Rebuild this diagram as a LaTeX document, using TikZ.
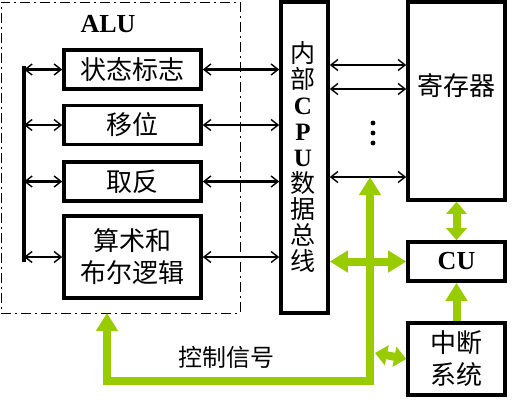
\documentclass[tikz,border=0pt]{standalone}
\usepackage{fontspec}
\setmainfont{Liberation Serif}
\newfontfamily\cjk{Noto Sans CJK SC}
\usetikzlibrary{arrows.meta}
\definecolor{ctrlgreen}{RGB}{153,204,0}

\begin{document}
\begin{tikzpicture}[
    x=0.5pt, y=-0.5pt,
    box/.style={draw, line width=1.8pt, inner sep=0pt, align=center, font=\cjk\fontsize{13}{16}\selectfont},
    alubox/.style={box, minimum width=68.5pt, minimum height=19.5pt},
    sidebox/.style={box, minimum width=48.5pt},
    frame/.style={draw, line width=0.5pt, dash pattern=on 5pt off 2pt on 1pt off 2pt, minimum width=119.5pt, minimum height=155.5pt, inner sep=0pt},
    wire/.style={line width=1.4pt},
    btip/.tip={Straight Barb[length=3.5pt, width=5.5pt, line width=0.7pt]},
    gtip/.tip={Triangle[length=9pt, width=10.5pt]},
    gshort/.tip={Triangle[length=6pt, width=10pt]},
    biwire/.style={wire, btip-btip},
    ctrl/.style={draw=ctrlgreen, line width=4pt},
    label_node/.style={font=\cjk\fontsize{12}{14}\selectfont}
]
    \useasboundingbox (0,0) rectangle (518,419);

    % ALU part
    \node[frame] (alu) at (120.5,157.5) {};
    \node[font=\fontsize{13}{15}\selectfont\bfseries] (alutxt) at (108,24) {ALU};
    \node[alubox] (flag) at (132.5,69.5) {状态标志};
    \node[alubox] (shift) at (132.5,125) {移位};
    \node[alubox] (neg) at (132.5,181.5) {取反};
    \node[alubox, minimum height=41pt] (arith) at (132.5,257) {算术和\\布尔逻辑};

    % internal bus
    \node[box, minimum width=23.5pt, minimum height=155.5pt] (bus) at (304.5,157.5) {};
    \node[font=\cjk\fontsize{12.5}{13}\selectfont, align=center] (bustxt) at (303,157)
        {内\\部\\{\normalfont\bfseries C}\\{\normalfont\bfseries P}\\{\normalfont\bfseries U}\\数\\据\\总\\线};

    % control side
    \node[sidebox, minimum height=99pt] (regs) at (456.5,101) {};
    \node[font=\cjk\fontsize{13}{16}\selectfont] (regtxt) at (456.5,86) {寄存器};
    \node[sidebox, minimum height=19.5pt, font=\fontsize{13}{15}\selectfont\bfseries] (cu) at (456.5,261.5) {CU};
    \node[sidebox, minimum height=36pt] (intr) at (456.5,359) {中断\\系统};

    % black connections
    \coordinate (lbtop) at (24,66);
    \coordinate (lbbot) at (24,262);
    \draw[wire, line width=1.6pt] (lbtop) -- (lbbot);
    \foreach \b in {flag,shift,neg,arith} {
        \draw[biwire] (lbtop |- \b.west) -- (\b.west);
        \draw[biwire] (\b.east) -- (bus.west |- \b.east);
    }
    \foreach \y in {65,89,177}
        \draw[biwire] (bus.east |- 0,\y) -- (regs.west |- 0,\y);
    \foreach \y in {123,133,143}
        \fill (373,\y) circle (1.2pt);

    % control signals
    \coordinate (ctip) at (370,177);
    \coordinate (cbend) at (370,381);
    \coordinate (aluin) at (107,313);
    \coordinate (intjoin) at (375,353);
    \draw[ctrl, gtip-gtip, line join=miter] (ctip) -- (cbend) -| (aluin);
    \draw[ctrl, gshort-gshort] (intjoin) -- (intr.west);
    \draw[ctrl, gtip-gtip] (bus.east |- cu.west) -- (cu.west);
    \draw[ctrl, gshort-gshort] (regs.south) -- (cu.north);
    \draw[ctrl, -gtip] (intr.north) -- (cu.south);
    \node[label_node] (ctrltxt) at (226,357) {控制信号};
\end{tikzpicture}
\end{document}
